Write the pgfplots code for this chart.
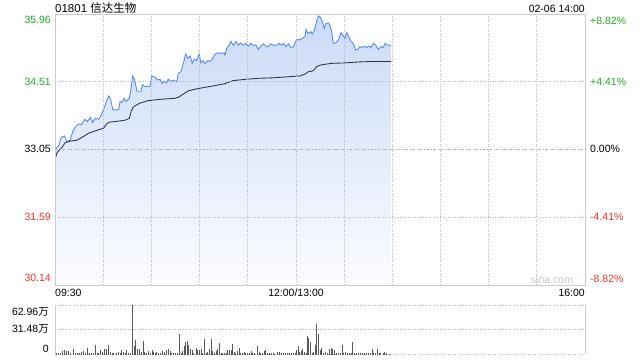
\documentclass[border=0pt]{standalone}
\usepackage{pgfplots}
\pgfplotsset{compat=1.18}
\usepackage{pgfplotstable}
\usepackage{fontspec}
\setmainfont{Liberation Sans}
\newfontfamily\cjk{Noto Sans CJK SC}
\definecolor{upgreen}{RGB}{34,168,34}
\definecolor{downred}{RGB}{238,52,40}
\definecolor{pline}{RGB}{86,140,238}
\definecolor{aline}{RGB}{45,50,64}
\definecolor{filltop}{RGB}{203,219,247}
\definecolor{fillbot}{RGB}{251,252,255}
\definecolor{border}{RGB}{204,204,204}
\definecolor{gridc}{RGB}{185,185,185}
\definecolor{volc}{RGB}{88,88,88}

\pgfplotstableread{
t p
0 32.82
0.6 33.08
2.3 33.13
3.9 33.31
6.0 33.34
7.3 33.22
9.5 33.25
11.0 33.43
12.6 33.54
14.8 33.60
16.4 33.58
18.5 33.70
20.1 33.65
22.0 33.74
23.5 33.63
25.1 33.72
27.2 33.70
29.3 33.83
30.9 33.97
31.8 34.06
33.4 34.20
34.7 34.13
35.9 33.91
37.2 33.90
39.7 33.90
40.5 34.08
41.7 34.06
43.0 34.15
44.2 34.08
46.3 34.15
47.5 34.40
48.4 34.63
49.6 34.54
51.1 34.29
53.5 34.29
54.4 34.44
56.0 34.40
58.1 34.41
59.1 34.40
60.2 34.63
62.3 34.60
63.9 34.54
65.4 34.56
66.8 34.47
68.1 34.52
69.5 34.48
70.5 34.56
72.2 34.51
73.7 34.54
75.8 34.51
76.8 34.69
78.4 34.72
79.9 34.90
81.4 35.10
82.6 35.01
84.1 35.06
85.5 34.90
86.7 34.99
88.2 34.96
89.7 35.10
90.9 34.91
92.3 34.96
93.4 34.89
95.1 34.96
96.5 34.94
97.9 34.99
99.2 35.08
100.7 35.12
105.4 35.12
105.8 35.08
106.9 35.22
108.5 35.29
109.4 35.37
111.0 35.29
112.7 35.37
114.1 35.29
115.6 35.34
117.2 35.29
118.9 35.33
120.3 35.27
121.8 35.33
123.5 35.29
125.1 35.29
126.6 35.20
128.1 35.27
129.7 35.32
131.4 35.27
132.8 35.26
134.3 35.32
135.9 35.29
138.0 35.29
139.6 35.33
141.1 35.29
142.1 35.33
143.8 35.26
145.3 35.32
146.7 35.25
148.4 35.25
149.4 35.34
150.5 35.42
152.1 35.40
154.2 35.44
155.7 35.49
156.3 35.63
157.5 35.54
159.4 35.58
160.2 35.53
161.4 35.60
162.9 35.80
163.9 35.92
165.0 35.90
166.4 35.80
167.7 35.65
168.5 35.75
170.2 35.77
171.2 35.72
172.3 35.58
173.3 35.33
174.8 35.34
176.4 35.40
178.1 35.56
179.5 35.49
180.6 35.44
181.6 35.56
183.0 35.47
184.3 35.37
185.7 35.33
187.2 35.19
188.5 35.20
189.9 35.26
191.3 35.24
192.6 35.27
194.1 35.24
195.5 35.27
196.7 35.24
198.2 35.33
199.7 35.29
201.3 35.20
203.0 35.26
204.4 35.24
205.5 35.33
207.1 35.29
209.2 35.29
}\price

\pgfplotstableread{
t a
0 32.82
1.1 32.97
2.3 33.02
4.4 33.10
6.4 33.20
9.5 33.23
13.7 33.25
16.8 33.31
21.0 33.40
25.1 33.45
30.3 33.51
32.4 33.61
34.4 33.64
39.7 33.66
43.8 33.68
46.3 33.72
47.5 33.88
49.0 33.97
52.5 34.04
58.1 34.10
66.4 34.13
74.7 34.15
76.8 34.17
79.9 34.24
83.0 34.31
89.2 34.36
97.6 34.41
105.4 34.46
111.0 34.53
119.4 34.56
127.6 34.58
135.9 34.59
144.3 34.61
152.5 34.63
155.7 34.67
157.7 34.72
160.8 34.74
162.9 34.83
166.0 34.87
172.3 34.90
180.6 34.91
188.8 34.93
197.2 34.94
209.2 34.94
}\avgp

\pgfplotstableread{
t v
0.6 2.1
1.9 1.3
3.3 2.5
4.8 4.7
6.0 5.5
7.3 4.2
8.5 4.7
9.8 2.1
11.2 6.8
12.7 1.3
13.9 2.1
15.1 1.3
16.4 3.0
17.6 4.2
18.9 2.1
20.1 8.1
21.4 1.3
22.6 2.1
23.9 1.3
25.1 11.9
26.4 1.3
27.2 2.1
28.4 5.5
29.7 3.4
30.9 6.4
32.0 6.8
33.2 11.9
34.4 3.4
35.5 2.5
36.7 1.3
38.0 2.1
39.2 3.4
40.5 1.3
41.3 5.5
42.5 3.4
43.8 2.1
44.6 5.5
45.9 2.1
46.7 1.3
48.1 62.9
49.4 11.0
50.2 18.2
51.3 7.6
52.5 7.6
53.8 3.4
55.0 17.0
56.0 3.4
57.1 2.5
58.3 4.2
59.6 2.5
60.4 5.5
61.4 3.4
62.6 2.1
63.3 3.0
64.5 2.1
65.8 2.1
66.8 4.7
67.9 3.0
69.1 5.5
70.4 6.4
71.6 4.7
72.4 2.5
73.7 2.1
74.9 1.3
76.2 2.1
77.4 25.9
78.7 2.1
79.5 4.7
80.3 10.6
81.1 16.1
82.4 17.0
83.2 12.7
84.4 6.4
85.3 5.5
86.5 2.1
87.8 8.9
89.0 5.5
90.1 5.5
91.1 6.4
91.9 1.3
93.0 19.5
94.1 2.1
94.8 3.4
96.0 6.4
97.2 19.5
98.1 4.7
99.1 2.1
100.4 4.7
101.2 6.8
102.4 14.8
103.5 2.1
104.4 2.1
105.8 1.3
106.6 1.3
107.6 5.5
108.7 5.5
109.7 5.5
110.5 13.1
111.6 3.4
112.6 1.3
113.7 4.7
114.7 8.5
115.7 2.1
116.8 2.1
117.8 3.4
118.8 1.3
119.9 1.3
120.9 1.3
122.2 4.7
123.2 2.1
124.4 1.3
126.1 11.0
127.1 3.4
128.2 2.1
129.2 1.3
130.3 4.7
131.3 5.5
132.3 2.1
133.6 1.3
134.6 1.3
135.9 1.3
136.9 0.4
138.6 3.4
139.8 3.4
141.1 1.3
142.3 2.1
143.5 1.3
144.8 1.3
146.0 1.3
147.3 1.3
148.5 2.1
149.8 1.3
150.6 5.5
151.4 11.0
152.5 3.4
153.5 4.2
154.3 6.4
155.4 3.4
156.4 2.1
157.2 23.3
158.1 21.6
159.1 16.1
160.2 1.3
161.2 3.4
162.2 11.9
163.0 38.6
164.1 26.7
165.1 5.5
166.2 8.5
167.2 2.1
168.4 3.4
169.7 2.1
170.9 7.6
171.9 8.9
173.0 6.4
174.3 5.5
175.3 2.5
176.3 1.3
177.6 2.1
178.8 11.9
179.9 2.5
180.9 3.4
182.1 2.1
183.2 1.3
184.4 2.5
185.5 15.7
186.3 2.1
187.5 1.3
188.8 2.1
190.0 1.3
191.3 2.1
192.5 2.5
193.8 1.3
195.0 2.5
196.2 2.1
197.5 7.6
198.5 2.1
199.6 2.5
200.8 7.6
201.9 1.3
202.9 2.5
204.2 1.3
205.4 3.4
206.5 1.3
208.2 0.4
}\vol

\begin{document}
\begin{tikzpicture}
\useasboundingbox (0,0) rectangle (640bp,360bp);
\begin{axis}[
  at={(55bp,75bp)}, anchor=south west,
  scale only axis, width=530bp, height=271bp,
  xmin=0, xmax=330, ymin=30.14, ymax=35.96,
  axis on top,
  axis line style={draw=border, line width=0.8bp},
  xtick={30,60,...,300}, ytick={31.59,34.51},
  xticklabels={}, yticklabels={},
  major tick length=0pt,
  xmajorgrids, ymajorgrids,
  major grid style={draw=gridc, line width=0.7bp, dash pattern=on 1bp off 1.5bp},
  extra y ticks={33.05}, extra y tick labels={},
  extra y tick style={grid=major, major grid style={draw=gray!60, line width=0.7bp, dash pattern=on 3bp off 1.5bp on 1bp off 1.5bp}},
]
\addplot[draw=none, top color=filltop, bottom color=fillbot, forget plot]
  table[x=t, y=p] {\price} -- (axis cs:209.2,30.14) -- (axis cs:0,30.14) -- cycle;
\addplot[pline, line width=0.9bp, mark=none] table[x=t, y=p] {\price};
\addplot[aline, line width=0.85bp, mark=none] table[x=t, y=a] {\avgp};
\end{axis}

\begin{axis}[
  at={(55bp,5.5bp)}, anchor=south west,
  scale only axis, width=530bp, height=49.5bp,
  xmin=0, xmax=330, ymin=0, ymax=62.96,
  axis line style={draw=none},
  xtick=\empty, ytick={0,31.48,62.96}, yticklabels={},
  major tick length=0pt,
  ymajorgrids,
  major grid style={draw=gridc, line width=0.7bp, dash pattern=on 1bp off 1.5bp},
  clip=true,
]
\addplot[ycomb, draw=volc, line width=0.9bp, mark=none] table[x=t, y=v] {\vol};
\end{axis}
\draw[border, line width=0.8bp] (55bp,5.5bp) -- (55bp,55bp);
\draw[border, line width=0.8bp] (585bp,5.5bp) -- (585bp,55bp);

\begin{scope}[every node/.style={inner sep=0pt, font=\fontsize{10.5bp}{12bp}\selectfont}]
% title
\node[anchor=base west, font=\fontsize{11.5bp}{13bp}\selectfont] at (55bp,347.3bp) {01801 {\cjk 信达生物}};
\node[anchor=base east] at (585bp,347.3bp) {02-06 14:00};
% left price labels
\node[anchor=east, text=upgreen] at (51bp,340bp) {35.96};
\node[anchor=east, text=upgreen] at (51bp,278bp) {34.51};
\node[anchor=east, text=black] at (51bp,211bp) {33.05};
\node[anchor=east, text=downred] at (51bp,143bp) {31.59};
\node[anchor=east, text=downred] at (51bp,82bp) {30.14};
% right pct labels
\node[anchor=west, text=upgreen] at (590bp,339.3bp) {+8.82\%};
\node[anchor=west, text=upgreen] at (590bp,278.3bp) {+4.41\%};
\node[anchor=west, text=black] at (590bp,210.7bp) {0.00\%};
\node[anchor=west, text=downred] at (590bp,142.7bp) {-4.41\%};
\node[anchor=west, text=downred] at (590bp,81bp) {-8.82\%};
% time labels
\node[anchor=west] at (55bp,67bp) {09:30};
\node[anchor=center] at (296bp,67bp) {12:00/13:00};
\node[anchor=east] at (585bp,67bp) {16:00};
% watermark
\node[anchor=center, text=black!22] at (552bp,80.5bp) {sina.com};
% volume labels
\node[anchor=east] at (49bp,48bp) {62.96{\cjk 万}};
\node[anchor=east] at (49bp,31bp) {31.48{\cjk 万}};
\node[anchor=east] at (49bp,10.7bp) {0};
\end{scope}
\end{tikzpicture}
\end{document}
